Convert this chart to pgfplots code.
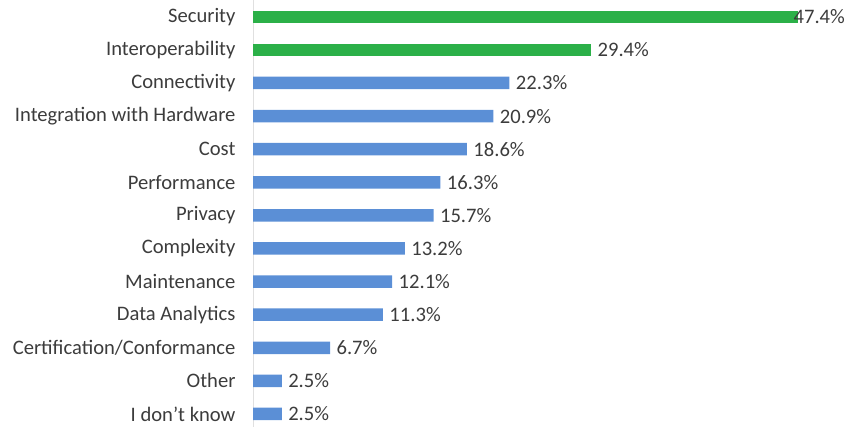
\documentclass[border=0pt]{standalone}
\usepackage{pgfplots}
\pgfplotsset{compat=1.18}
\usepackage{fontspec}
\setmainfont{Carlito}
\definecolor{barblue}{RGB}{91,143,214}
\definecolor{bargreen}{RGB}{43,176,72}
\definecolor{txt}{RGB}{60,60,60}
\begin{document}
\begin{tikzpicture}[x=1pt,y=1pt]
\useasboundingbox (0,0) rectangle (848,427);
\begin{axis}[
  at={(253pt,0pt)}, anchor=south west,
  scale only axis, width=575pt, height=427pt,
  xbar, bar width=12.5pt, bar shift=0pt,
  xmin=0, xmax=50, ymin=-0.393, ymax=12.507,
  axis x line=none, axis y line*=left,
  y axis line style={draw=black!12, line width=0.8pt, -},
  ytick={0,...,12},
  yticklabels={I don't know,Other,Certification/Conformance,Data Analytics,Maintenance,Complexity,Privacy,Performance,Cost,Integration with Hardware,Connectivity,Interoperability,Security},
  major tick length=0pt,
  yticklabel style={font=\fontsize{20.6}{24}\selectfont, text=txt, xshift=-14pt},
  clip=false,
  point meta=x,
  nodes near coords={\pgfmathprintnumber[fixed,precision=1,zerofill,assume math mode=true]{\pgfplotspointmeta}\%},
  nodes near coords style={font=\fontsize{20.6}{24}\selectfont, text=txt, anchor=west, xshift=3pt},
]
\addplot[draw=none, fill=barblue] coordinates {(2.5,0) (2.5,1) (6.7,2) (11.3,3) (12.1,4) (13.2,5) (15.7,6) (16.3,7) (18.6,8) (20.9,9) (22.3,10)};
\addplot[draw=none, fill=bargreen] coordinates {(29.4,11)};
\addplot[draw=none, fill=bargreen, nodes near coords style={xshift=-11pt}] coordinates {(47.4,12)};
\end{axis}
\end{tikzpicture}
\end{document}
